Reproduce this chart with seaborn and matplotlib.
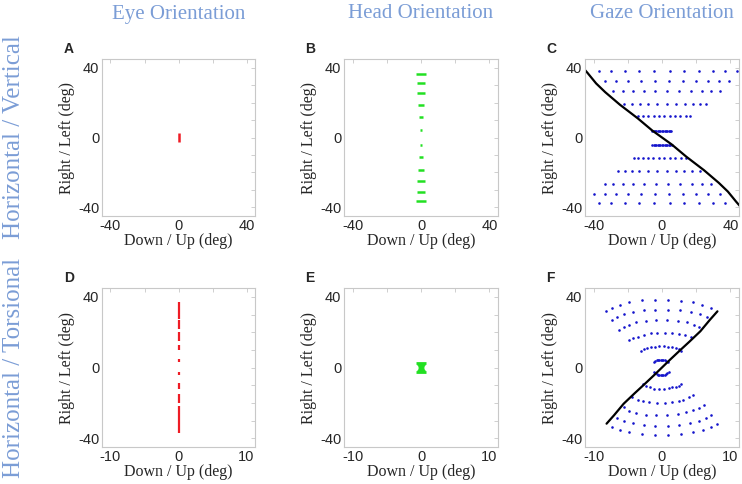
import numpy as np
import pandas as pd
import seaborn as sns
import matplotlib.pyplot as plt

# ---- panel A: eye, horizontal/vertical (short red stroke at 0)
eye_hv_y = [-2.4, 2.3]

# ---- panel B: head, horizontal/vertical (green dashes)
head_hv_y = [36.6, 31.1, 25.4, 18.6, 11.5, 4.1, -4.1, -11.3, -18.6, -25.0, -31.1, -36.6]
head_hv_w = [2.7, 2.45, 2.2, 1.8, 1.2, 0.45, 0.45, 1.2, 1.8, 2.2, 2.45, 2.7]

# ---- panel C: gaze, horizontal/vertical (blue rows + black curve)
gaze_hv_rows_y = [38.0, 32.6, 26.5, 19.3, 12.1, 3.9, -4.1, -12.0, -19.3, -26.5, -32.3, -37.8]
gaze_hv_rows_x = [
    [-37.0, -29.8, -21.6, -13.3, -4.6, 4.4, 13.1, 21.5, 29.6, 36.8, 43.7],
    [-33.6, -26.9, -19.9, -12.1, -4.2, 4.0, 12.0, 19.7, 27.1, 33.6, 39.4],
    [-28.5, -22.8, -16.7, -10.4, -3.8, 2.8, 9.9, 16.9, 23.2, 28.9, 33.8],
    [-22.2, -17.6, -12.9, -8.0, -2.7, 2.7, 8.2, 13.3, 18.0, 22.4, 26.0],
    [-14.2, -11.0, -8.0, -4.9, -1.7, 1.3, 4.6, 7.8, 10.8, 13.8, 16.5],
    [-5.7, -4.9, -4.1, -3.3, -2.5, -1.7, -0.9, -0.1, 0.7, 1.5, 2.3, 3.1, 3.9, 4.6, 5.3],
    [-5.7, -4.9, -4.1, -3.3, -2.5, -1.7, -0.9, -0.1, 0.7, 1.5, 2.3, 3.1, 3.9, 4.8, 5.7],
    [-16.5, -14.0, -11.2, -8.2, -5.1, -1.9, 1.3, 4.6, 7.8, 11.0, 14.1],
    [-25.8, -21.8, -17.6, -13.3, -8.2, -2.8, 2.7, 8.0, 12.9, 17.3, 22.2],
    [-33.6, -28.5, -22.8, -17.1, -10.4, -3.4, 3.6, 10.8, 17.3, 23.2, 28.9],
    [-39.5, -33.6, -26.9, -19.9, -12.1, -4.2, 4.0, 12.0, 19.7, 27.1, 33.8],
    [-37.0, -29.8, -21.6, -13.3, -4.6, 4.4, 13.1, 21.5, 29.6, 36.8],
]
curve_hv_x = [-46.0, -43.5, -38.5, -33.2, -24.6, -14.2, -5.7, 0.0, 5.7, 14.2, 24.6, 33.2, 38.5, 43.5, 46.0]
curve_hv_y = [39.8, 37.0, 31.0, 26.0, 18.8, 11.0, 4.0, 0.0, -4.0, -11.0, -18.8, -26.0, -31.0, -37.0, -39.8]

# ---- panel D: eye, horizontal/torsional (red vertical strokes)
eye_ht_lo = [27.3, 21.8, 15.2, 9.8, 2.9, -4.3, -12.0, -19.9, -37.0]
eye_ht_hi = [37.3, 26.9, 20.0, 12.8, 4.6, -2.7, -9.0, -15.0, -21.8]

# ---- panel E: head, horizontal/torsional (small green hourglass)
head_ht_y = [2.6, 2.1, 1.6, 1.1, 0.6, 0.2, -0.2, -0.6, -1.1, -1.6, -2.0, -2.3]
head_ht_w = [0.7, 0.6, 0.5, 0.4, 0.3, 0.22, 0.22, 0.3, 0.4, 0.5, 0.6, 0.7]

# ---- panel F: gaze, horizontal/torsional (blue arcs + black curve)
gaze_ht_arcs = [
    ([-8.2, -7.35, -6.2, -4.75, -2.95, -1.04, 0.85, 2.75, 4.5, 5.9, 7.1],
     [31.8, 33.7, 35.6, 37.1, 38.0, 38.4, 38.4, 37.9, 36.9, 35.6, 33.7]),
    ([-7.35, -6.64, -5.6, -4.3, -2.7, -0.95, 0.85, 2.6, 4.2, 5.5, 6.6],
     [27.1, 28.8, 30.3, 31.5, 32.4, 32.8, 32.8, 32.4, 31.5, 30.3, 28.6]),
    ([-6.26, -5.6, -4.87, -3.74, -2.4, -0.85, 0.71, 2.28, 3.6, 4.65, 5.36],
     [21.5, 23.0, 24.3, 25.6, 26.4, 26.7, 26.7, 26.2, 25.6, 24.3, 23.0]),
    ([-4.75, -4.27, -3.56, -2.7, -1.66, -0.71, 0.47, 1.52, 2.46, 3.41, 4.27],
     [15.4, 16.6, 17.3, 18.6, 19.6, 19.8, 19.8, 19.6, 19.2, 18.5, 17.3]),
    ([-3.08, -2.7, -2.23, -1.66, -1.04, -0.38, 0.24, 0.85, 1.42, 1.99, 2.46, 2.84],
     [9.2, 10.2, 10.9, 11.5, 11.8, 12.0, 12.0, 11.8, 11.5, 10.9, 10.2, 9.6]),
    ([-1.2, -1.0, -0.8, -0.6, -0.4, -0.2, 0.0, 0.2, 0.4, 0.6, 0.85],
     [3.0, 3.6, 4.0, 4.3, 4.5, 4.5, 4.5, 4.4, 4.2, 3.8, 3.2]),
    ([-1.2, -1.0, -0.8, -0.6, -0.4, -0.2, 0.0, 0.2, 0.4, 0.6, 0.8, 1.04],
     [-2.6, -3.3, -3.8, -4.1, -4.3, -4.3, -4.3, -4.2, -4.0, -3.7, -3.2, -2.5]),
    ([-2.84, -2.37, -1.8, -1.19, -0.47, 0.24, 0.95, 1.52, 2.04, 2.51, 2.84],
     [-9.4, -10.5, -11.3, -11.9, -11.9, -11.9, -11.7, -11.3, -10.8, -10.2, -9.4]),
    ([-4.36, -3.56, -2.84, -1.9, -0.71, 0.38, 1.52, 2.46, 3.08, 3.88, 4.5],
     [-16.6, -18.5, -19.2, -19.8, -19.9, -19.9, -19.8, -19.2, -18.3, -16.8, -15.6]),
    ([-5.6, -4.75, -3.74, -2.37, -0.85, 0.71, 2.28, 3.56, 4.6, 5.45, 6.07],
     [-22.6, -24.5, -25.8, -26.7, -26.9, -26.9, -26.6, -25.4, -24.1, -23.0, -21.3]),
    ([-6.64, -5.6, -4.27, -2.7, -0.95, 0.85, 2.51, 4.08, 5.45, 6.5, 7.2],
     [-28.6, -30.5, -31.6, -32.6, -33.0, -33.0, -32.6, -31.6, -30.5, -28.6, -26.9]),
    ([-7.35, -6.16, -4.75, -2.99, -1.04, 0.85, 2.75, 4.5, 5.97, 7.11, 7.97],
     [-33.5, -35.4, -36.7, -37.9, -38.4, -38.4, -37.9, -36.7, -35.4, -33.5, -31.8]),
]
curve_ht_x = [-8.1, -7.0, -5.6, -4.0, -2.6, -1.2, 0.0, 1.2, 2.6, 4.0, 5.6, 7.0, 8.1]
curve_ht_y = [-31.8, -27.0, -20.5, -14.6, -9.6, -4.5, 0.0, 4.5, 9.6, 14.6, 20.5, 27.0, 31.8]

col_titles = ["Eye Orientation", "Head Orientation", "Gaze Orientation"]
row_titles = ["Horizontal / Vertical", "Horizontal / Torsional"]
letters = ["A", "B", "C", "D", "E", "F"]

RED = "#ee1c25"
GREEN = "#22e022"
BLUE = "#1414cc"
TITLE = "#7b9dd6"

sns.set_style("white")
plt.rcParams["font.family"] = ["Liberation Sans", "DejaVu Sans"]
plt.rcParams["axes.unicode_minus"] = False

fig = plt.figure(figsize=(7.42, 4.84), dpi=100)
W, H = 742.0, 484.0
col_px = [(102, 255), (344, 498), (585, 739)]
row_px = [(59, 216), (288, 447)]
axes = []
for r, (top, bot) in enumerate(row_px):
    for c, (lft, rgt) in enumerate(col_px):
        ax = fig.add_axes([lft / W, 1 - bot / H, (rgt - lft) / W, (bot - top) / H])
        axes.append(ax)


def hseg_frame(ys, ws):
    rows = []
    for i, (y, w) in enumerate(zip(ys, ws)):
        rows.append({"x": -w, "y": y, "seg": i})
        rows.append({"x": w, "y": y, "seg": i})
    return pd.DataFrame(rows)


def vseg_frame(los, his):
    rows = []
    for i, (lo, hi) in enumerate(zip(los, his)):
        rows.append({"x": 0.0, "y": lo, "seg": i})
        rows.append({"x": 0.0, "y": hi, "seg": i})
    return pd.DataFrame(rows)


# A
sns.lineplot(data=vseg_frame([eye_hv_y[0]], [eye_hv_y[1]]), x="x", y="y", units="seg",
             estimator=None, sort=False, color=RED, lw=1.8, ax=axes[0], solid_capstyle="butt")
# B
sns.lineplot(data=hseg_frame(head_hv_y, head_hv_w), x="x", y="y", units="seg",
             estimator=None, sort=False, color=GREEN, lw=1.8, ax=axes[1], solid_capstyle="butt")
# C
gx = [x for row in gaze_hv_rows_x for x in row]
gy = [y for row, y in zip(gaze_hv_rows_x, gaze_hv_rows_y) for _ in row]
sns.scatterplot(x=gx, y=gy, s=3.5, color=BLUE, linewidth=0, ax=axes[2])
sns.lineplot(x=curve_hv_x, y=curve_hv_y, sort=False, color="black", lw=1.6, ax=axes[2])
# D
sns.lineplot(data=vseg_frame(eye_ht_lo, eye_ht_hi), x="x", y="y", units="seg",
             estimator=None, sort=False, color=RED, lw=1.6, ax=axes[3], solid_capstyle="butt")
# E
sns.lineplot(data=hseg_frame(head_ht_y, head_ht_w), x="x", y="y", units="seg",
             estimator=None, sort=False, color=GREEN, lw=2.0, ax=axes[4], solid_capstyle="butt")
# F
fx = [x for arc in gaze_ht_arcs for x in arc[0]]
fy = [y for arc in gaze_ht_arcs for y in arc[1]]
sns.scatterplot(x=fx, y=fy, s=3.5, color=BLUE, linewidth=0, ax=axes[5])
sns.lineplot(x=curve_ht_x, y=curve_ht_y, sort=False, color="black", lw=1.6, ax=axes[5])

for i, ax in enumerate(axes):
    xl = 45 if i < 3 else 11.25
    xt = 40 if i < 3 else 10
    ax.set_xlim(-xl, xl)
    ax.set_ylim(-45, 45)
    ax.set_xticks([-xt, 0, xt])
    ax.set_xticklabels([str(-xt), "0", str(xt)])
    ax.set_xticks([-xt / 2, xt / 2], minor=True)
    ax.set_yticks([-40, 0, 40])
    ax.set_yticklabels(["-40", "0", "40"])
    ax.set_yticks([-30, -20, -10, 10, 20, 30], minor=True)
    ax.tick_params(which="both", direction="in", top=True, right=True,
                   color="#c8c8c8", length=3, width=0.6, labelsize=10.5, pad=2)
    for sp in ax.spines.values():
        sp.set_color("#c8c8c8")
        sp.set_linewidth(0.8)
    ax.set_xlabel("Down / Up (deg)", family="Liberation Serif", fontsize=11.5, labelpad=0)
    ax.set_ylabel("Right / Left (deg)", family="Liberation Serif", fontsize=11.5, labelpad=2)
    ax.text(-0.25, 1.02, letters[i], transform=ax.transAxes, fontsize=10,
            fontweight="bold", ha="left", va="bottom")

for c, t in enumerate(col_titles):
    xc = (col_px[c][0] + col_px[c][1]) / 2 / W
    fig.text(xc, 1 - 14 / H, t, color=TITLE, family="Liberation Serif",
             fontsize=15, ha="center", va="center")
for r, t in enumerate(row_titles):
    yc = 1 - ((row_px[r][0] + row_px[r][1]) / 2) / H
    fig.text(14 / W, yc, t, color=TITLE, family="Liberation Serif",
             fontsize=18, rotation=90, ha="center", va="center")

fig.savefig("out.png", dpi=100)
